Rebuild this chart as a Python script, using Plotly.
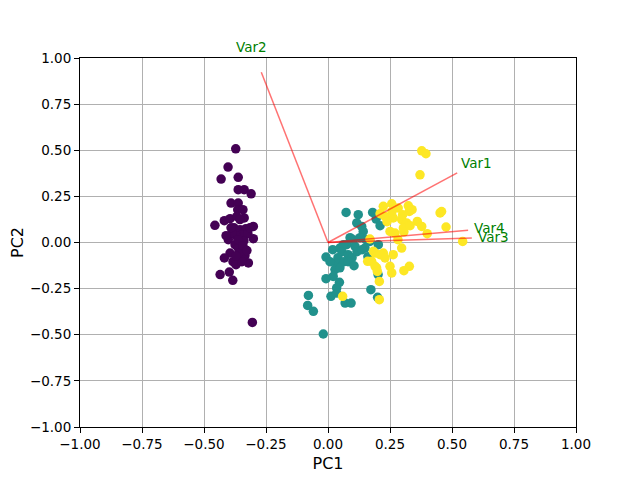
import plotly.graph_objects as go

# PCA scores (scaled), one list per class
setosa_pc1 = [-0.372, -0.403, -0.431, -0.362, -0.362, -0.338, -0.310, -0.391, -0.362, -0.364,
              -0.456, -0.418, -0.395, -0.368, -0.338, -0.301, -0.301, -0.402, -0.375, -0.362,
              -0.395, -0.418, -0.362, -0.321, -0.435, -0.398, -0.384, -0.305, -0.379, -0.355,
              -0.331, -0.347, -0.371, -0.323, -0.387, -0.339, -0.363, -0.335, -0.351, -0.383,
              -0.371, -0.347, -0.315, -0.411, -0.343, -0.391, -0.355, -0.371, -0.343, -0.327]
setosa_pc2 = [0.508, 0.409, 0.344, 0.353, 0.286, 0.286, 0.264, 0.214, 0.214, 0.178,
              0.093, 0.118, 0.129, 0.141, 0.133, 0.087, 0.021, 0.015, -0.012, -0.030,
              -0.057, -0.084, -0.084, -0.111, -0.174, -0.160, -0.205, -0.433, 0.080, 0.069,
              0.075, 0.042, 0.037, 0.048, 0.053, 0.010, 0.015, -0.072, -0.050, -0.104,
              -0.120, -0.104, 0.080, 0.037, 0.178, 0.080, 0.124, -0.072, -0.017, -0.044]

versicolor_pc1 = [0.073, 0.122, 0.180, 0.116, 0.136, 0.142, 0.194, 0.210, -0.008, 0.019,
                  0.048, 0.075, 0.109, 0.032, 0.028, 0.021, -0.008, 0.046, 0.035, 0.173,
                  0.200, -0.079, -0.082, -0.059, -0.019, 0.012, 0.035, 0.069, 0.093, 0.169,
                  0.203, 0.102, 0.062, 0.149, 0.056, 0.081, 0.040, 0.065, 0.097, 0.048,
                  0.008, 0.117, 0.137, 0.153, 0.129, 0.089, 0.202, 0.081, 0.161, 0.105]
versicolor_pc2 = [0.163, 0.151, 0.163, 0.106, 0.087, 0.060, 0.127, 0.091, -0.079, -0.039,
                  -0.030, -0.012, -0.021, -0.111, -0.147, -0.184, -0.196, -0.216, -0.246, -0.256,
                  -0.297, -0.287, -0.341, -0.373, -0.496, -0.292, -0.274, -0.328, -0.328, 0.006,
                  -0.012, 0.015, -0.012, -0.030, -0.050, -0.066, -0.082, -0.104, -0.082, -0.137,
                  -0.104, -0.050, -0.039, 0.015, 0.026, 0.026, -0.174, -0.104, -0.077, -0.126]

virginica_pc1 = [0.378, 0.395, 0.371, 0.223, 0.257, 0.283, 0.324, 0.328, 0.301, 0.230,
                 0.263, 0.297, 0.317, 0.304, 0.360, 0.378, 0.400, 0.452, 0.458, 0.476,
                 0.543, 0.250, 0.270, 0.297, 0.263, 0.223, 0.190, 0.176, 0.196, 0.250,
                 0.328, 0.257, 0.169, 0.183, 0.210, 0.230, 0.160, 0.190, 0.199, 0.207,
                 0.059, 0.207, 0.306, 0.339, 0.238, 0.282, 0.258, 0.210, 0.331, 0.306]
virginica_pc2 = [0.497, 0.481, 0.367, 0.196, 0.210, 0.187, 0.199, 0.168, 0.151, 0.141,
                 0.133, 0.124, 0.106, 0.079, 0.114, 0.087, 0.048, 0.160, 0.168, 0.084,
                 0.006, 0.060, 0.051, -0.030, -0.066, -0.057, -0.057, -0.102, -0.138, -0.129,
                 -0.129, -0.165, 0.019, -0.048, -0.066, -0.084, -0.102, -0.129, -0.157, -0.211,
                 -0.292, -0.310, 0.058, 0.178, 0.113, 0.015, 0.167, 0.156, 0.091, -0.153]

# loadings of the four variables on PC1 / PC2
var_names = ["Var1", "Var2", "Var3", "Var4"]
load_pc1 = [0.521, -0.269, 0.580, 0.565]
load_pc2 = [0.377, 0.923, 0.024, 0.067]

fig = go.Figure()

classes = [
    (setosa_pc1, setosa_pc2, "#440154"),
    (versicolor_pc1, versicolor_pc2, "#21918c"),
    (virginica_pc1, virginica_pc2, "#fde725"),
]
for xs, ys, col in classes:
    fig.add_trace(go.Scatter(x=xs, y=ys, mode="markers",
                             marker=dict(color=col, size=9.5, line=dict(width=0)),
                             showlegend=False, hoverinfo="x+y"))

# loading arrows (plain lines, no heads) and their labels
for name, lx, ly in zip(var_names, load_pc1, load_pc2):
    fig.add_trace(go.Scatter(x=[0, lx], y=[0, ly], mode="lines",
                             line=dict(color="red", width=1.5), opacity=0.55,
                             showlegend=False, hoverinfo="skip"))
    # paper coords (axes run -1..1) so Var2, which sits above the axes, still shows
    fig.add_annotation(x=(lx * 1.15 + 1) / 2, y=(ly * 1.15 + 1) / 2,
                       xref="paper", yref="paper", text=name, showarrow=False,
                       xanchor="center", yanchor="middle",
                       font=dict(color="green", size=13.5))

axis_style = dict(range=[-1, 1], dtick=0.25, tick0=-1, tickformat=".2f",
                  showgrid=True, gridcolor="#b0b0b0", gridwidth=1,
                  zeroline=False, showline=True, linecolor="black", linewidth=1,
                  mirror=True, ticks="outside", ticklen=5, tickcolor="black",
                  tickfont=dict(size=13.5, color="black"), automargin=False)

# the page body adds an 8px offset, so margins are shifted to line the axes up
fig.update_layout(
    width=640, height=480,
    margin=dict(l=72, r=72, t=50, b=61),
    plot_bgcolor="white", paper_bgcolor="white",
    font=dict(family="DejaVu Sans", size=13.5, color="black"),
    xaxis=dict(axis_style, title=dict(text="PC1", standoff=6)),
    yaxis=dict(axis_style, title=dict(text="PC2", standoff=6)),
)

fig.write_html("out.html")
